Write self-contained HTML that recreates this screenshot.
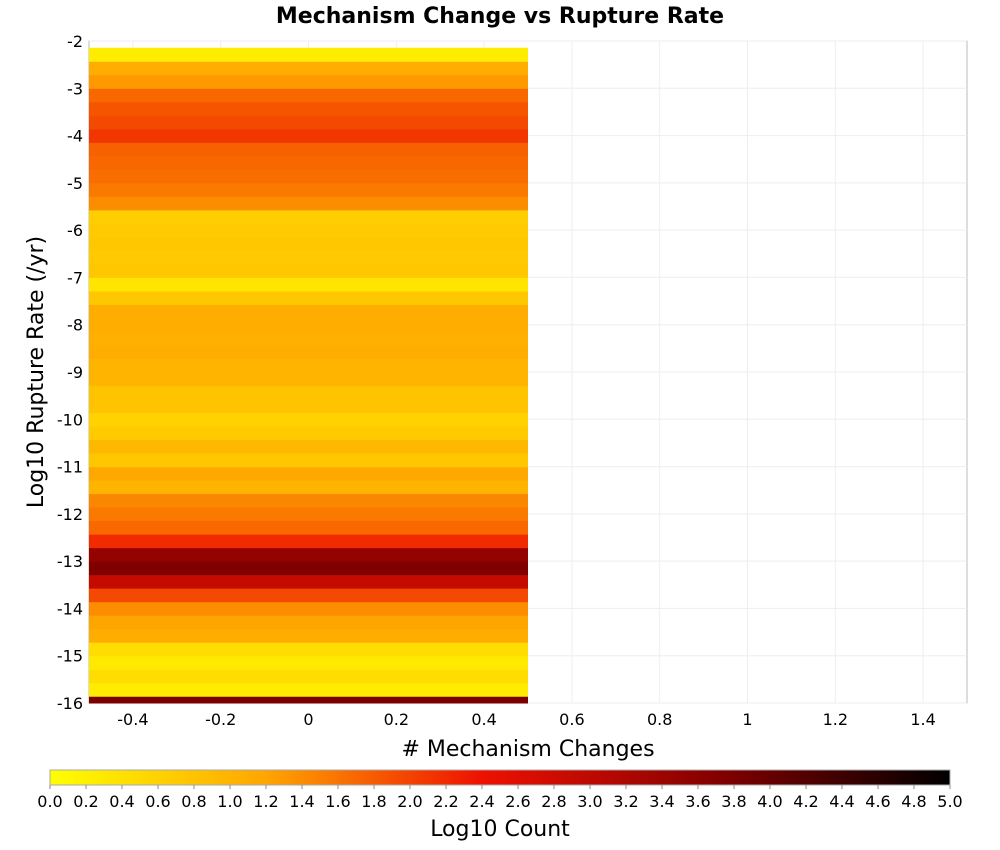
<!DOCTYPE html>
<html><head><meta charset="utf-8"><style>
body{margin:0;background:#fff;}
svg{display:block;font-family:"DejaVu Sans","Liberation Sans",sans-serif;}
</style></head><body>
<svg id="chart" width="1000" height="850" viewBox="0 0 1000 850">
<defs>
<linearGradient id="cbar" x1="0" x2="1" y1="0" y2="0">
<stop offset="0" stop-color="#ffff00"/><stop offset="0.24" stop-color="#ffa500"/><stop offset="0.48" stop-color="#ee1100"/><stop offset="0.75" stop-color="#800000"/><stop offset="1" stop-color="#000000"/>
</linearGradient>
</defs>
<text x="500" y="23" text-anchor="middle" font-size="22" font-weight="bold">Mechanism Change vs Rupture Rate</text>
<rect x="89" y="41" width="878" height="662" fill="#fff" stroke="#bbb"/>
<g id="grid"></g>
<g id="cells"></g>
<g id="axes"></g>
<text x="528" y="756" text-anchor="middle" font-size="22"># Mechanism Changes</text>
<text transform="translate(43,372) rotate(-90)" text-anchor="middle" font-size="22">Log10 Rupture Rate (/yr)</text>
<rect x="50" y="770" width="900" height="15" fill="url(#cbar)" stroke="#aaa"/>
<g id="cbticks"></g>
<text x="500" y="836" text-anchor="middle" font-size="22">Log10 Count</text>
</svg>
<script>
// bin values (log10 count), bottom (y=-16) to top
const binCenters=[];for(let k=0;k<49;k++)binCenters.push(-16+k*14/49);
const logCounts=[3.8,0.25,0.45,0.3,0.45,1.1,1.2,1.4,1.95,2.9,3.75,3.5,2.2,1.7,1.55,1.45,1.0,1.15,0.75,0.95,0.7,0.6,0.8,0.8,1.0,1.0,1.1,1.05,1.1,1.1,0.75,0.35,0.75,0.7,0.75,0.7,0.65,1.4,1.55,1.65,1.7,1.75,2.1,1.95,1.85,1.7,1.3,1.1,0.25];
const xTicks=[-0.4,-0.2,0,0.2,0.4,0.6,0.8,1,1.2,1.4];
const yTicks=[-2,-3,-4,-5,-6,-7,-8,-9,-10,-11,-12,-13,-14,-15,-16];
const cbTicks=[];for(let i=0;i<=25;i++)cbTicks.push(i*0.2);
const xBin=[-0.5,0.5];
const binH=14/49;
const X=v=>89+(v+0.5)*439, Y=v=>41+(-2-v)*(662/14);
const stops=[[0,[255,255,0]],[1.2,[255,165,0]],[2.4,[238,17,0]],[3.75,[128,0,0]],[5,[0,0,0]]];
function cmap(v){for(let i=0;i<stops.length-1;i++){const a=stops[i],b=stops[i+1];if(v<=b[0]||i==stops.length-2){const t=Math.max(0,Math.min(1,(v-a[0])/(b[0]-a[0])));return 'rgb('+a[1].map((c,j)=>Math.round(c+(b[1][j]-c)*t)).join(',')+')';}}}
const NS='http://www.w3.org/2000/svg';
function mk(tag,attrs,parent,txt){const e=document.createElementNS(NS,tag);for(const k in attrs)e.setAttribute(k,attrs[k]);if(txt!==undefined)e.textContent=txt;parent.appendChild(e);return e;}
const grid=document.getElementById('grid'),cells=document.getElementById('cells'),axes=document.getElementById('axes'),cbt=document.getElementById('cbticks');
xTicks.forEach(v=>{const l=mk('line',{x1:X(v),x2:X(v),y1:41,y2:703,stroke:'#eee'},grid);


const t=mk('text',{x:X(v),y:725,'text-anchor':'middle','font-size':16},axes,String(v));

});
yTicks.forEach(v=>{const l=mk('line',{x1:89,x2:967,y1:Y(v),y2:Y(v),stroke:'#eee'},grid);


const t=mk('text',{x:83,y:Y(v)+6,'text-anchor':'end','font-size':16},axes,String(v));

});
binCenters.forEach((c,i)=>{let top=Math.min(-2,c+binH/2),bot=Math.max(-16,c-binH/2);
const r=mk('rect',{x:X(xBin[0]),width:X(xBin[1])-X(xBin[0]),y:Y(top),height:Y(bot)-Y(top)+0.5,fill:cmap(logCounts[i])},cells);

});
cbTicks.forEach(v=>{const x=50+v/5*900;
const l=mk('line',{x1:x,x2:x,y1:785,y2:789,stroke:'#888'},cbt);


const t=mk('text',{x:x,y:807,'text-anchor':'middle','font-size':16},cbt,v.toFixed(1));

});
</script>
</body></html>
